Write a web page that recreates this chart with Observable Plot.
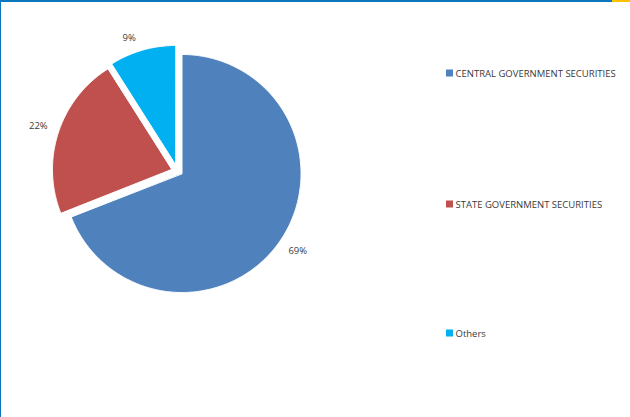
<!DOCTYPE html>
<html>
<head>
<meta charset="utf-8">
<script src="https://cdn.jsdelivr.net/npm/d3@7"></script>
<script src="https://cdn.jsdelivr.net/npm/@observablehq/plot@0.6"></script>
<style>
  html, body { margin: 0; padding: 0; background: #fff; }
  #wrap { position: relative; width: 630px; height: 417px; overflow: hidden; }
  #chart { position: absolute; left: 0; top: 0; }
  .bt { position: absolute; left: 0; top: 0; width: 612px; height: 2px; background: #0B77BD; }
  .by { position: absolute; left: 612px; top: 0; width: 18px; height: 2px; background: #FFC000; }
  .bl { position: absolute; left: 0; top: 0; width: 1px; height: 417px; background: #0B77BD; }
</style>
</head>
<body>
<div id="wrap">
  <div id="chart"></div>
  <div class="bt"></div><div class="by"></div><div class="bl"></div>
</div>
<script>
// ---- data ----
const categories = ["CENTRAL GOVERNMENT SECURITIES", "STATE GOVERNMENT SECURITIES", "Others"];
const values = [69, 22, 9];
const valueLabels = ["69%", "22%", "9%"];
const colors = ["#4F81BD", "#C0504D", "#00B0F0"];

// ---- layout (styling) ----
const W = 630, H = 417;
const cx = 181.5, cy = 173, R = 119;
const sliceShift = [[0, 0], [-10.5, -4], [-6.5, -9]];
const labelR = [140, 140, 134];
const labelShift = [[0, -1.5], [0, 0], [-9, 2]];

const arcs = d3.pie().sort(null).value(d => d)(values);
const pt = (a, r, ox, oy) => ({ x: ox + r * Math.sin(a), y: oy - r * Math.cos(a) });

const slicePts = [];
const labelRows = [];
arcs.forEach((a, i) => {
  const mid = (a.startAngle + a.endAngle) / 2;
  const o = { x: cx + sliceShift[i][0], y: cy + sliceShift[i][1] };
  slicePts.push({ cat: categories[i], x: o.x, y: o.y });
  const n = Math.max(2, Math.ceil((a.endAngle - a.startAngle) / (Math.PI / 360)));
  for (let k = 0; k <= n; k++) {
    const t = a.startAngle + (a.endAngle - a.startAngle) * k / n;
    const p = pt(t, R, o.x, o.y);
    slicePts.push({ cat: categories[i], x: p.x, y: p.y });
  }
  const l = pt(mid, labelR[i], o.x, o.y);
  labelRows.push({ text: valueLabels[i], x: l.x + labelShift[i][0], y: l.y + labelShift[i][1] });
});

const legendY = [73, 204, 333];
const legendRows = categories.map((c, i) => ({ cat: c, y: legendY[i] }));

const chart = Plot.plot({
  width: W,
  height: H,
  margin: 0,
  x: { domain: [0, W], range: [0, W], axis: null },
  y: { domain: [0, H], range: [0, H], axis: null },
  color: { domain: categories, range: colors },
  style: { fontFamily: "'Open Sans', sans-serif", background: "transparent" },
  marks: [
    Plot.line(slicePts, { x: "x", y: "y", z: "cat", fill: "cat", stroke: "white", strokeWidth: 1, curve: "linear-closed" }),
    Plot.text(labelRows, { x: "x", y: "y", text: "text", fill: "#3a3a3a", fontSize: 9.5 }),
    Plot.rect(legendRows, { x1: () => 446, x2: () => 453, y1: d => d.y - 3.5, y2: d => d.y + 3.5, fill: "cat", inset: 0 }),
    Plot.text(legendRows, { x: () => 455, y: "y", text: "cat", textAnchor: "start", fill: "#3a3a3a", fontSize: 9.5 })
  ]
});
document.getElementById("chart").appendChild(chart);
</script>
</body>
</html>
